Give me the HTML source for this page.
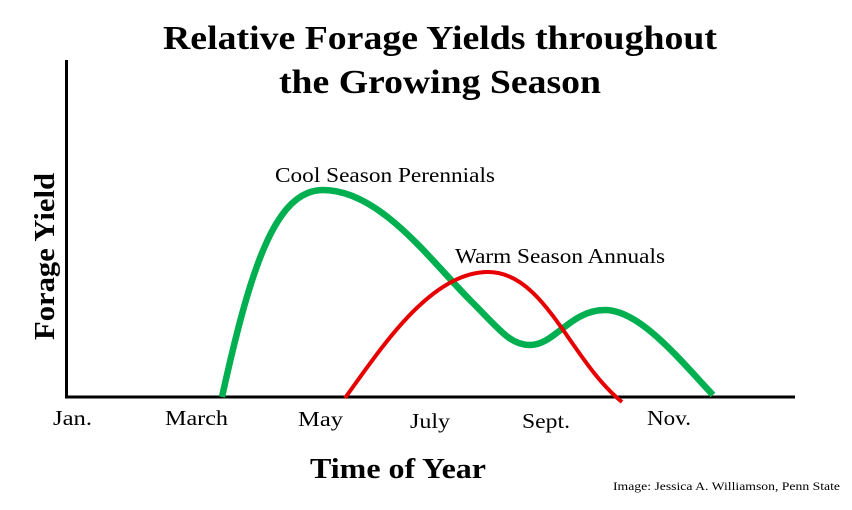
<!DOCTYPE html>
<html><head><style>
body{margin:0;background:#fff;}
svg{display:block;font-family:"Liberation Serif",serif;}
</style></head><body>
<svg width="852" height="510" viewBox="0 0 852 510">
<text x="163" y="49" font-size="34" font-weight="bold" textLength="554" lengthAdjust="spacingAndGlyphs">Relative Forage Yields throughout</text>
<text x="279" y="93" font-size="34" font-weight="bold" textLength="322" lengthAdjust="spacingAndGlyphs">the Growing Season</text>
<line x1="66.5" y1="60" x2="66.5" y2="398" stroke="#000" stroke-width="3"/>
<line x1="65" y1="397" x2="795" y2="397" stroke="#000" stroke-width="3"/>
<text transform="translate(54,340) rotate(-90)" font-size="28" font-weight="bold" textLength="167" lengthAdjust="spacingAndGlyphs">Forage Yield</text>
<path d="M222,397 C250,270 275,190 323,190 C380,190 430,260 470,300 C500,330 510,345 530,345 C555,345 570,310 605,310 C640,310 680,360 713,395" fill="none" stroke="#00b050" stroke-width="6.5"/>
<path d="M345,398 C380,350 430,272 488,272 C545,272 570,360 622,402" fill="none" stroke="#e60000" stroke-width="4"/>
<text x="275" y="182" font-size="21" textLength="220" lengthAdjust="spacingAndGlyphs">Cool Season Perennials</text>
<text x="455" y="263" font-size="21" textLength="210" lengthAdjust="spacingAndGlyphs">Warm Season Annuals</text>
<g font-size="21">
<text x="53" y="425" textLength="39" lengthAdjust="spacingAndGlyphs">Jan.</text>
<text x="165" y="425" textLength="63" lengthAdjust="spacingAndGlyphs">March</text>
<text x="298" y="426" textLength="45" lengthAdjust="spacingAndGlyphs">May</text>
<text x="410" y="428" textLength="40" lengthAdjust="spacingAndGlyphs">July</text>
<text x="522" y="428" textLength="48" lengthAdjust="spacingAndGlyphs">Sept.</text>
<text x="647" y="425" textLength="44" lengthAdjust="spacingAndGlyphs">Nov.</text>
</g>
<text x="310" y="478" font-size="28" font-weight="bold" textLength="176" lengthAdjust="spacingAndGlyphs">Time of Year</text>
<text x="613" y="490" font-size="12" textLength="227" lengthAdjust="spacingAndGlyphs">Image: Jessica A. Williamson, Penn State</text>
</svg>
</body></html>
